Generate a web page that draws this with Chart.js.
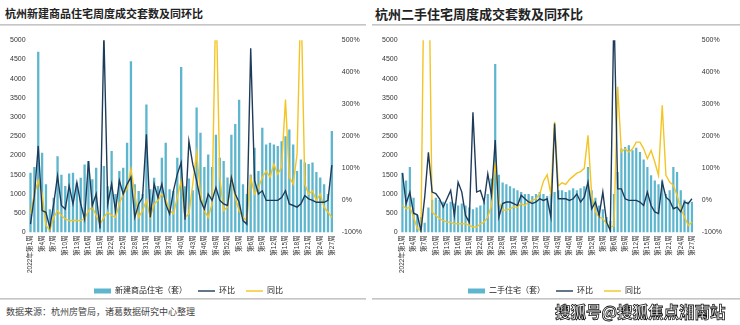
<!DOCTYPE html>
<html>
<head>
<meta charset="utf-8">
<script src="https://cdn.jsdelivr.net/npm/chart.js@4.4.0/dist/chart.umd.min.js"></script>
<style>
  body { margin: 0; background: #fff; font-family: 'Noto Sans CJK SC', sans-serif; }
  #wrap { position: relative; width: 740px; height: 325px; overflow: hidden; }
  .title { position: absolute; top: 5px; font-weight: bold; color: #222; white-space: nowrap; }
  .rule { position: absolute; height: 2px; background: linear-gradient(#bbb, #e6e6e6); }
  .box { position: absolute; top: 28px; width: 370px; height: 277px; }
  .source { position: absolute; left: 6px; top: 305px; font-size: 9px; color: #444; }
  .stamp { position: absolute; left: 555px; top: 300px; font-size: 15.5px; font-weight: bold; color: #fff;
           -webkit-text-stroke: 0.8px #111; white-space: nowrap; }
</style>
</head>
<body>
<div id="wrap">
  <div class="title" style="left:5px;font-size:11px">杭州新建商品住宅周度成交套数及同环比</div>
  <div class="title" style="left:375px;font-size:13px;top:4px">杭州二手住宅周度成交套数及同环比</div>
  <div class="rule" style="left:0;top:24px;width:366px"></div>
  <div class="rule" style="left:372px;top:24px;width:368px"></div>
  <div class="box" style="left:0"><canvas id="newChart"></canvas></div>
  <div class="box" style="left:370px"><canvas id="resaleChart"></canvas></div>
  <div class="rule" style="left:0;top:298px;width:366px"></div>
  <div class="rule" style="left:372px;top:298px;width:368px"></div>
  <div class="source">数据来源：杭州房管局，诸葛数据研究中心整理</div>
  <div class="stamp">搜狐号@搜狐焦点湘南站</div>
</div>
<script>
// week labels: 2022 wk1-52, 2023 wk1-27
const weekLabels = [
  '2022年第1周','第2周','第3周','第4周','第5周','第6周','第7周','第8周','第9周','第10周',
  '第11周','第12周','第13周','第14周','第15周','第16周','第17周','第18周','第19周','第20周',
  '第21周','第22周','第23周','第24周','第25周','第26周','第27周','第28周','第29周','第30周',
  '第31周','第32周','第33周','第34周','第35周','第36周','第37周','第38周','第39周','第40周',
  '第41周','第42周','第43周','第44周','第45周','第46周','第47周','第48周','第49周','第50周',
  '第51周','第52周',
  '2023年第1周','第2周','第3周','第4周','第5周','第6周','第7周','第8周','第9周','第10周',
  '第11周','第12周','第13周','第14周','第15周','第16周','第17周','第18周','第19周','第20周',
  '第21周','第22周','第23周','第24周','第25周','第26周','第27周'
];

// 新建商品住宅
const newHomeUnits = [1550,1700,4700,2070,1250,600,900,1980,1500,1210,
  1530,1550,1290,1420,1770,1860,1380,1680,300,1730,
  1200,2120,1000,1600,1680,2330,4450,1250,1080,1000,
  3330,1120,1420,1210,1940,2330,1120,1080,1940,4300,
  1200,1400,1100,3250,2590,1700,2030,1700,2540,1940,
  1860,1430,2540,2820,3450,1250,1000,1500,2200,1600,
  2720,2290,2330,2290,2250,2370,2500,2680,2290,1600,
  1900,1820,1780,1820,1570,1430,1250,1000,2640];
const newHomeMoM = [-74,13,170,-32,-37,-85,-11,76,-16,-27,
  45,-11,56,-11,-58,123,-16,20,-88,520,
  -11,51,-32,62,20,51,72,-53,-11,9,
  206,-53,51,9,51,-11,-42,30,82,118,
  -60,185,113,62,0,-27,20,0,40,0,
  -11,-16,72,20,-6,-63,-74,475,62,20,
  30,0,0,0,0,9,30,-11,-16,-21,
  -11,15,5,0,-6,-6,-6,0,110];
const newHomeYoY = [-42,20,62,20,-78,-93,-53,-32,-47,-58,
  -63,-63,-63,-63,-58,-32,-21,-47,-74,-53,
  -37,-47,-53,-11,20,35,98,20,-53,-32,
  0,-53,-11,0,20,5,-32,-42,9,62,
  -53,-42,51,150,20,-32,-53,-11,650,72,
  -32,-21,72,9,-32,-53,-63,72,20,40,
  72,92,72,113,82,103,315,72,51,144,
  650,51,20,30,0,20,-21,-37,-53];

// 二手住宅
const resaleUnits = [1550,1350,1700,900,450,400,250,650,850,900,
  850,800,750,800,750,700,750,700,650,600,
  650,700,800,1000,1400,4380,1500,1300,1250,1200,
  1150,1100,1050,1000,1000,950,1000,1050,1000,950,
  1000,1050,1100,1100,1050,1100,1150,1100,1150,1200,
  1700,1100,900,700,600,400,300,1000,1570,2180,
  2220,2270,2140,2200,2090,1900,1700,1490,1350,1250,
  1350,1000,1100,1700,1570,1100,850,800,800];
const resaleMoM = [85,-10,25,-40,-45,-95,10,150,26,21,
  5,-21,5,31,-47,57,26,-47,-68,275,
  26,31,-5,83,16,188,-52,-10,-5,-5,
  -10,-16,16,5,-5,-10,-5,5,0,5,
  -52,240,5,5,5,0,5,20,-5,10,
  57,-26,-5,-47,26,-68,-94,600,36,36,
  5,0,0,0,-5,-16,26,-16,-36,-41,
  57,10,0,-26,-21,-36,-5,-10,5];
const resaleYoY = [-15,-26,-21,-52,-88,-95,900,850,-37,-47,
  -57,-63,-68,-68,-73,-73,-73,-73,-78,-83,
  -83,-73,-68,-52,-16,120,-5,-31,-31,-26,
  -21,-21,-10,-16,-5,0,5,20,60,80,
  20,245,45,55,50,65,75,85,90,100,
  203,16,-36,-52,-57,-73,-83,-80,355,151,
  161,151,161,182,182,161,130,156,120,78,
  297,78,57,47,16,-26,-52,-78,-68];

const barColor = '#5db6ce';
const momColor = '#1f3b5a';
const yoyColor = '#f3c523';

Chart.defaults.font.family = "'Liberation Sans', 'Noto Sans CJK SC', sans-serif";
Chart.defaults.color = '#333';
Chart.defaults.animation = false;

function makeChart(id, barName, units, mom, yoy, pad, rightGap) {
  const ctx = document.getElementById(id).getContext('2d');
  return new Chart(ctx, {
    type: 'bar',
    data: {
      labels: weekLabels,
      datasets: [
        {
          label: barName,
          data: units,
          backgroundColor: barColor,
          borderWidth: 0,
          barPercentage: 0.6,
          categoryPercentage: 1,
          yAxisID: 'y',
          order: 3,
          pointStyle: 'rect'
        },
        {
          type: 'line',
          label: '环比',
          data: mom,
          borderColor: momColor,
          backgroundColor: momColor,
          borderWidth: 1.4,
          pointRadius: 0,
          tension: 0,
          yAxisID: 'y1',
          order: 1,
          pointStyle: 'line'
        },
        {
          type: 'line',
          label: '同比',
          data: yoy,
          borderColor: yoyColor,
          backgroundColor: yoyColor,
          borderWidth: 1.4,
          pointRadius: 0,
          tension: 0,
          yAxisID: 'y1',
          order: 2,
          pointStyle: 'line'
        }
      ]
    },
    options: {
      responsive: true,
      maintainAspectRatio: false,
      layout: { padding: pad },
      plugins: {
        tooltip: { enabled: false },
        legend: {
          position: 'bottom',
          labels: {
            usePointStyle: true,
            pointStyleWidth: 17,
            boxHeight: 5,
            padding: 11,
            color: '#222',
            font: { size: 8 },
            sort: (a, b) => a.datasetIndex - b.datasetIndex
          }
        }
      },
      scales: {
        x: {
          grid: { display: false, drawTicks: false },
          border: { display: false },
          ticks: {
            autoSkip: false,
            maxRotation: 90,
            minRotation: 90,
            padding: 3,
            font: { size: 6.5 },
            callback: function(value, index) {
              return index % 3 === 0 ? this.getLabelForValue(value) : '';
            }
          }
        },
        y: {
          position: 'left',
          min: 0,
          max: 5000,
          grid: { display: false, drawTicks: false },
          border: { display: false },
          ticks: { stepSize: 500, font: { size: 7 }, padding: 3, callback: v => String(v) }
        },
        y1: {
          position: 'right',
          min: -100,
          max: 500,
          grid: { display: false, drawTicks: false },
          border: { display: false },
          ticks: { stepSize: 100, font: { size: 7 }, padding: rightGap, callback: v => v + '%' }
        }
      }
    }
  });
}

makeChart('newChart', '新建商品住宅（套）', newHomeUnits, newHomeMoM, newHomeYoY,
  { left: 7, right: 0, top: 9, bottom: 0 }, 8);
makeChart('resaleChart', '二手住宅（套）', resaleUnits, resaleMoM, resaleYoY,
  { left: 9, right: 10, top: 12, bottom: 0 }, 8);
</script>
</body>
</html>
